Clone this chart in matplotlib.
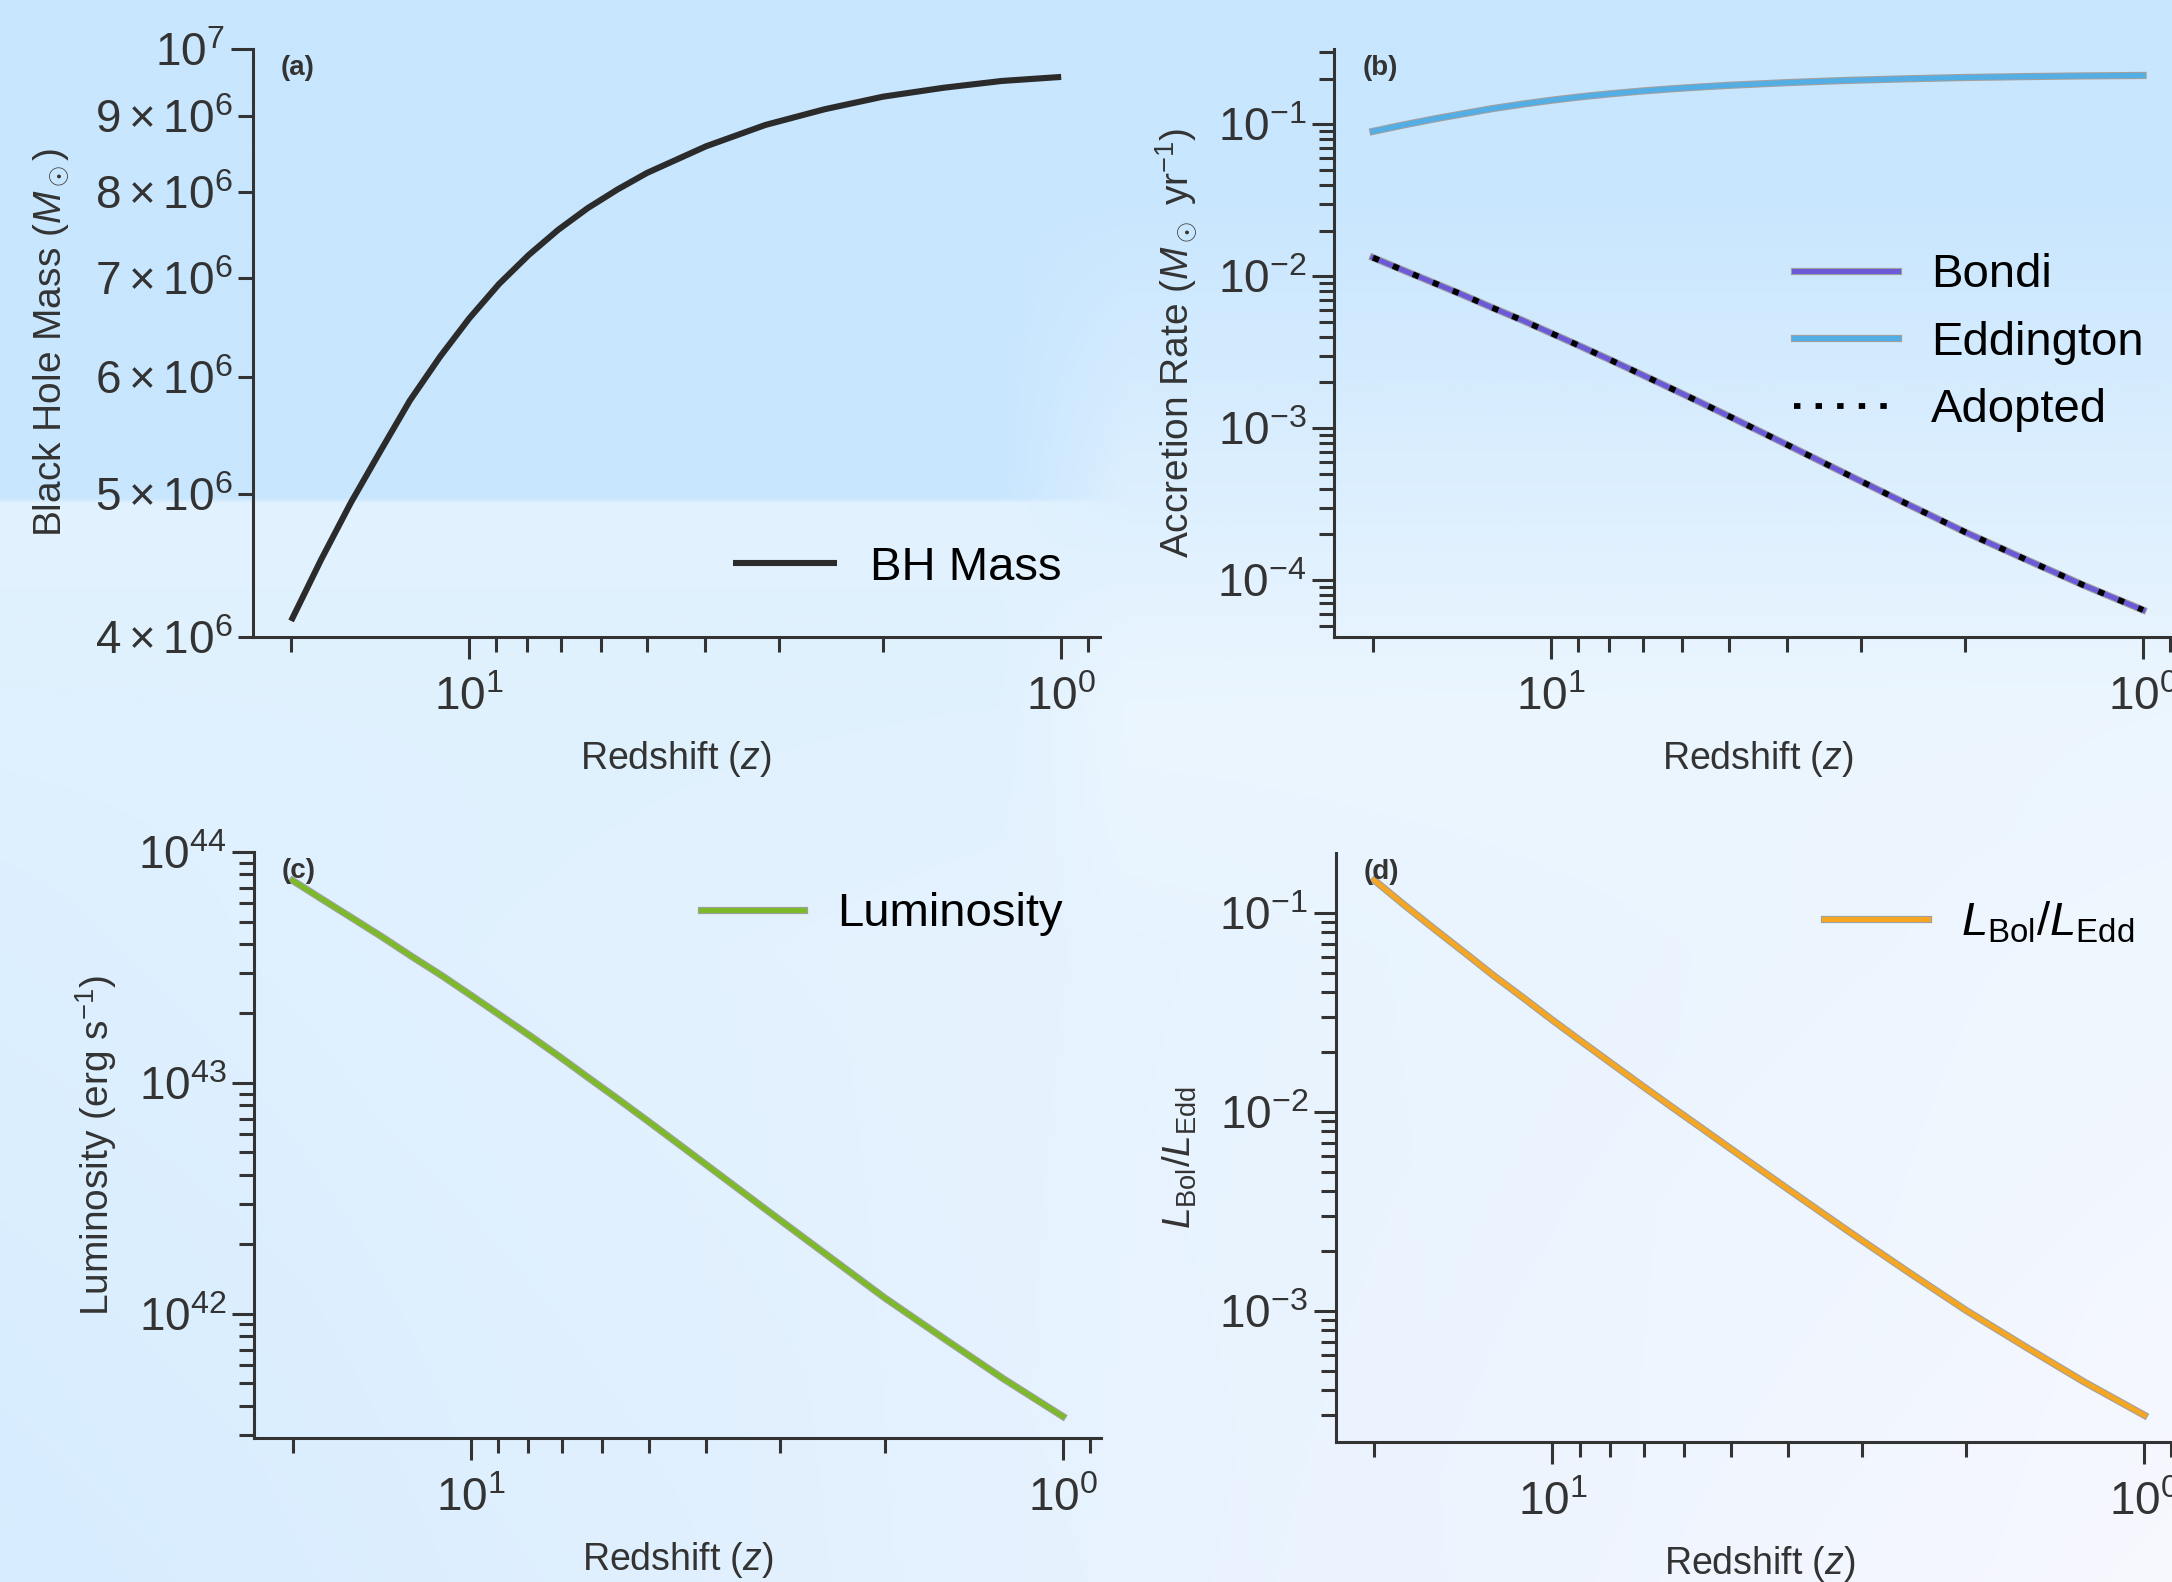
import numpy as np
import matplotlib
matplotlib.use("Agg")
import matplotlib.pyplot as plt
import matplotlib.patheffects as pe
from matplotlib.ticker import LogFormatterSciNotation

plt.rcParams['font.family'] = ['Liberation Sans', 'DejaVu Sans']
plt.rcParams['mathtext.fontset'] = 'custom'
plt.rcParams['mathtext.rm'] = 'Liberation Sans'
plt.rcParams['mathtext.it'] = 'Liberation Sans:italic'
plt.rcParams['mathtext.bf'] = 'Liberation Sans:bold'

# redshift grid
redshift = [20, 17.8, 15.85, 14.1, 12.6, 11.2, 10, 8.91, 7.94, 7.08,
            6.31, 5.62, 5.01, 3.98, 3.16, 2.51, 2.0, 1.58, 1.26, 1.0]

# black hole mass [Msun]
bh_mass = [4.10e6, 4.51e6, 4.93e6, 5.35e6, 5.78e6, 6.19e6, 6.57e6, 6.93e6, 7.25e6, 7.54e6,
           7.80e6, 8.03e6, 8.24e6, 8.59e6, 8.88e6, 9.10e6, 9.28e6, 9.41e6, 9.51e6, 9.57e6]

# accretion rates [Msun / yr]
bondi = [1.327e-2, 1.098e-2, 9.11e-3, 7.54e-3, 6.23e-3, 5.14e-3, 4.22e-3, 3.45e-3, 2.81e-3, 2.28e-3,
         1.846e-3, 1.49e-3, 1.199e-3, 7.72e-4, 4.95e-4, 3.18e-4, 2.07e-4, 1.368e-4, 9.23e-5, 6.34e-5]
eddington = [0.0900, 0.0990, 0.1082, 0.1174, 0.1269, 0.1359, 0.1442, 0.1521, 0.1591, 0.1655,
             0.1712, 0.1763, 0.1809, 0.1886, 0.1949, 0.1997, 0.2037, 0.2065, 0.2087, 0.2101]
adopted = [1.327e-2, 1.098e-2, 9.11e-3, 7.54e-3, 6.23e-3, 5.14e-3, 4.22e-3, 3.45e-3, 2.81e-3, 2.28e-3,
           1.846e-3, 1.49e-3, 1.199e-3, 7.72e-4, 4.95e-4, 3.18e-4, 2.07e-4, 1.368e-4, 9.23e-5, 6.34e-5]

# bolometric luminosity [erg/s]
luminosity = [7.53e43, 6.23e43, 5.17e43, 4.28e43, 3.54e43, 2.92e43, 2.40e43, 1.96e43, 1.60e43, 1.30e43,
              1.048e43, 8.46e42, 6.81e42, 4.38e42, 2.81e42, 1.81e42, 1.175e42, 7.76e41, 5.24e41, 3.60e41]

# Eddington ratio
edd_ratio = [0.1458, 0.1096, 0.0832, 0.0634, 0.0486, 0.0374, 0.0289, 0.02244, 0.01748, 0.01364,
             0.01067, 8.36e-3, 6.56e-3, 4.05e-3, 2.51e-3, 1.574e-3, 1.005e-3, 6.54e-4, 4.37e-4, 2.99e-4]

fig = plt.figure(figsize=(21.72, 15.82), dpi=100)

# background wash
ny, nx = 316, 434
yy, xx = np.mgrid[0:1:ny * 1j, 0:1:nx * 1j]
top = np.array([200, 230, 254.])
mid_l = np.array([226, 242, 254.])
bot_l = np.array([214, 236, 254.])
mid_r = np.array([236, 246, 254.])
bot_r = np.array([248, 248, 255.])
t = np.clip((yy - 0.315) / 0.685, 0, 1)[..., None]
left = np.where((yy < 0.315)[..., None], top, mid_l * (1 - t) + bot_l * t)
t1 = np.clip((yy - 0.12) / 0.33, 0, 1)[..., None]
t2 = np.clip((yy - 0.45) / 0.55, 0, 1)[..., None]
right = np.where((yy < 0.45)[..., None], top * (1 - t1) + mid_r * t1, mid_r * (1 - t2) + bot_r * t2)
w_top = np.clip((xx - 0.46) / 0.06, 0, 1)
s = np.clip((yy - 0.4) / 0.2, 0, 1)
w = ((1 - s) * w_top + s * xx)[..., None]
img = (left * (1 - w) + right * w) / 255.
bg = fig.add_axes([0, 0, 1, 1], zorder=-10)
bg.imshow(img, aspect='auto', extent=[0, 1, 0, 1], interpolation='bilinear')
bg.axis('off')

ink = '#333333'
rects = {
    'a': [0.1163, 0.5975, 0.390, 0.3717],
    'b': [0.6144, 0.5975, 0.390, 0.3717],
    'c': [0.1170, 0.0910, 0.390, 0.3704],
    'd': [0.6150, 0.0885, 0.390, 0.3720],
}
axes = {}
for k, r in rects.items():
    ax = fig.add_axes(r)
    ax.set_facecolor('none')
    ax.set_xscale('log')
    ax.set_yscale('log')
    for sp in ['top', 'right']:
        ax.spines[sp].set_visible(False)
    for sp in ['left', 'bottom']:
        ax.spines[sp].set_linewidth(2.2)
        ax.spines[sp].set_color(ink)
    ax.tick_params(which='major', direction='out', length=16, width=2.2, colors=ink,
                   labelsize=33, pad=4)
    ax.tick_params(which='minor', direction='out', length=10.5, width=2.2, colors=ink,
                   labelsize=33, pad=4)
    ax.tick_params(axis='x', which='both', pad=12)
    ax.set_xlabel('Redshift ($z$)', fontsize=27, color=ink, labelpad=14)
    ax.text(0.033, 0.99, '(' + k + ')', transform=ax.transAxes, va='top', ha='left',
            fontsize=20, fontweight='bold', color=ink)
    axes[k] = ax

edge = lambda lw: [pe.Stroke(linewidth=lw + 1.6, foreground='#a0a0a0'), pe.Normal()]
leg_kw = dict(frameon=False, fontsize=34, handlelength=2.2, handletextpad=0.7,
              borderpad=0, borderaxespad=0)

# (a) black hole mass
ax = axes['a']
ax.plot(redshift, bh_mass, color='#2b2b2b', lw=4.4, label='BH Mass', solid_capstyle='butt')
ax.set_ylim(4e6, 1e7)
ax.yaxis.set_minor_formatter(LogFormatterSciNotation(labelOnlyBase=False, minor_thresholds=(2, 1)))
ax.set_ylabel('Black Hole Mass ($M_\\odot$)', fontsize=28, color=ink)
ax.yaxis.set_label_coords(-0.214, 0.5)
ax.legend(loc='center right', bbox_to_anchor=(0.955, 0.117), **leg_kw)

# (b) accretion rates
ax = axes['b']
ax.plot(redshift, bondi, color='#6a5ad8', lw=3.6, label='Bondi', path_effects=edge(3.6))
ax.plot(redshift, eddington, color='#52aee4', lw=3.6, label='Eddington', path_effects=edge(3.6))
ax.plot(redshift, adopted, color='black', lw=4.2, ls=(0, (1.1, 2.6)), label='Adopted')
ax.set_ylabel('Accretion Rate ($M_\\odot$ yr$^{-1}$)', fontsize=28, color=ink)
ax.yaxis.set_label_coords(-0.16, 0.5)
ax.legend(loc='center right', bbox_to_anchor=(0.955, 0.50), labelspacing=0.5, **leg_kw)

# (c) luminosity
ax = axes['c']
ax.plot(redshift, luminosity, color='#7dba2a', lw=3.6, label='Luminosity', path_effects=edge(3.6))
ax.set_ylim(2.9e41, 1e44)
ax.set_ylabel('Luminosity (erg s$^{-1}$)', fontsize=28, color=ink)
ax.yaxis.set_label_coords(-0.159, 0.5)
ax.legend(loc='center right', bbox_to_anchor=(0.955, 0.894), **leg_kw)

# (d) Eddington ratio
ax = axes['d']
ax.plot(redshift, edd_ratio, color='#f5a623', lw=3.6, label='$L_{\\rm Bol}/L_{\\rm Edd}$',
        path_effects=edge(3.6))
ax.set_ylabel('$L_{\\rm Bol}/L_{\\rm Edd}$', fontsize=28, color=ink)
ax.yaxis.set_label_coords(-0.162, 0.483)
ax.legend(loc='center right', bbox_to_anchor=(0.943, 0.883), **leg_kw)

for ax in axes.values():
    ax.invert_xaxis()

fig.savefig('out.png', dpi=100)
